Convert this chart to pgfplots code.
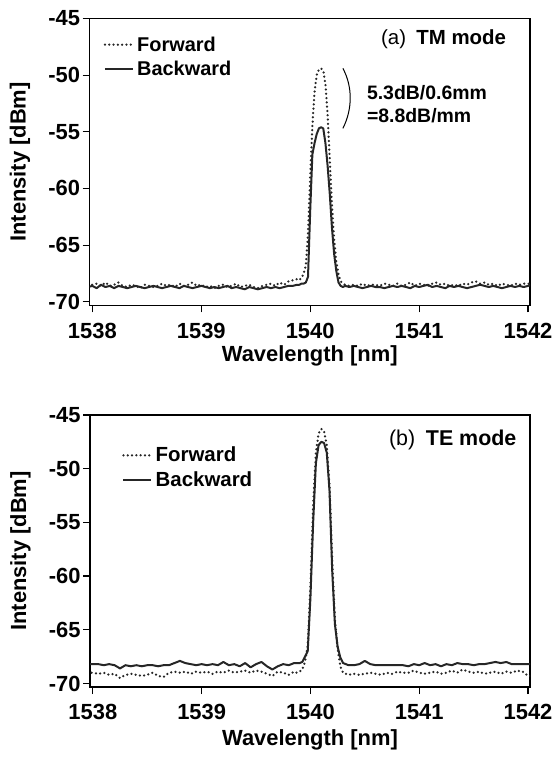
\documentclass[border=0pt]{standalone}
\usepackage{fontspec}
\setmainfont{Liberation Sans}
\usepackage{pgfplots}
\usepackage{pgfplotstable}
\pgfplotsset{compat=1.18}

% (a) TM mode
\pgfplotstableread{
x fwd bwd
1537.96 -68.6 -68.7
1538.00 -68.5 -68.6
1538.04 -68.4 -68.8
1538.08 -68.6 -68.5
1538.12 -68.3 -68.7
1538.16 -68.6 -68.6
1538.20 -68.5 -68.8
1538.24 -68.3 -68.6
1538.28 -68.6 -68.7
1538.32 -68.7 -68.8
1538.36 -68.5 -68.7
1538.40 -68.6 -68.6
1538.44 -68.8 -68.7
1538.48 -68.5 -68.8
1538.52 -68.6 -68.7
1538.56 -68.7 -68.6
1538.60 -68.6 -68.7
1538.64 -68.4 -68.8
1538.68 -68.6 -68.7
1538.72 -68.5 -68.6
1538.76 -68.7 -68.7
1538.80 -68.4 -68.8
1538.84 -68.6 -68.6
1538.88 -68.5 -68.7
1538.92 -68.3 -68.8
1538.96 -68.6 -68.7
1539.00 -68.5 -68.6
1539.04 -68.7 -68.7
1539.08 -68.6 -68.8
1539.12 -68.8 -68.7
1539.16 -68.6 -68.8
1539.20 -68.5 -68.7
1539.24 -68.7 -68.6
1539.28 -68.6 -68.8
1539.32 -68.4 -68.7
1539.36 -68.7 -68.8
1539.40 -68.6 -68.9
1539.44 -68.5 -68.7
1539.48 -68.7 -68.8
1539.52 -68.8 -68.9
1539.56 -68.6 -68.8
1539.60 -68.5 -68.7
1539.64 -68.4 -68.8
1539.68 -68.6 -68.7
1539.72 -68.3 -68.8
1539.76 -68.5 -68.7
1539.80 -68.2 -68.6
1539.84 -68.1 -68.6
1539.88 -68.0 -68.5
1539.90 -68.1 -68.5
1539.92 -67.9 -68.4
1539.94 -67.5 -68.4
1539.96 -66.8 -68.3
1539.98 -64.0 -67.8
1540.00 -59.0 -62.0
1540.02 -54.5 -57.0
1540.04 -51.5 -56.0
1540.06 -50.0 -55.2
1540.08 -49.5 -54.7
1540.10 -49.4 -54.6
1540.12 -49.6 -54.7
1540.14 -50.8 -56.0
1540.16 -53.5 -58.0
1540.18 -57.5 -60.5
1540.20 -61.5 -63.5
1540.22 -64.5 -65.8
1540.24 -66.5 -67.3
1540.26 -67.6 -68.3
1540.28 -68.2 -68.6
1540.30 -68.4 -68.7
1540.32 -68.5 -68.6
1540.36 -68.6 -68.7
1540.40 -68.5 -68.6
1540.44 -68.6 -68.7
1540.48 -68.4 -68.8
1540.52 -68.6 -68.7
1540.56 -68.5 -68.6
1540.60 -68.5 -68.7
1540.64 -68.6 -68.7
1540.68 -68.4 -68.8
1540.72 -68.5 -68.7
1540.76 -68.6 -68.6
1540.80 -68.4 -68.7
1540.84 -68.6 -68.6
1540.88 -68.5 -68.7
1540.92 -68.3 -68.8
1540.96 -68.6 -68.6
1541.00 -68.4 -68.7
1541.04 -68.5 -68.6
1541.08 -68.6 -68.5
1541.12 -68.4 -68.7
1541.16 -68.3 -68.6
1541.20 -68.5 -68.7
1541.24 -68.4 -68.8
1541.28 -68.6 -68.6
1541.32 -68.5 -68.7
1541.36 -68.6 -68.6
1541.40 -68.4 -68.7
1541.44 -68.5 -68.8
1541.48 -68.3 -68.7
1541.52 -68.2 -68.6
1541.56 -68.4 -68.5
1541.60 -68.3 -68.6
1541.64 -68.5 -68.7
1541.68 -68.4 -68.6
1541.72 -68.6 -68.7
1541.76 -68.4 -68.8
1541.80 -68.5 -68.7
1541.84 -68.6 -68.6
1541.88 -68.4 -68.7
1541.92 -68.5 -68.6
1541.96 -68.4 -68.7
1542.00 -68.4 -68.6
1542.04 -68.5 -68.5
}\tmtable

% (b) TE mode
\pgfplotstableread{
x fwd bwd
1537.950 -69.0 -68.2
1538.000 -69.0 -68.2
1538.050 -69.1 -68.2
1538.100 -69.0 -68.3
1538.150 -69.2 -68.2
1538.200 -69.1 -68.3
1538.250 -69.5 -68.6
1538.300 -69.2 -68.3
1538.350 -69.1 -68.4
1538.400 -69.2 -68.3
1538.450 -69.3 -68.4
1538.500 -69.2 -68.3
1538.550 -69.0 -68.3
1538.600 -69.3 -68.4
1538.650 -69.4 -68.3
1538.700 -69.0 -68.3
1538.750 -68.9 -68.1
1538.800 -69.0 -67.9
1538.850 -68.9 -68.1
1538.900 -69.1 -68.2
1538.950 -68.9 -68.3
1539.000 -69.0 -68.2
1539.050 -68.9 -68.3
1539.100 -69.1 -68.2
1539.150 -68.9 -68.3
1539.200 -69.0 -68.0
1539.250 -68.8 -68.3
1539.300 -69.0 -68.2
1539.350 -68.9 -68.4
1539.400 -68.8 -68.1
1539.450 -69.0 -68.5
1539.500 -68.8 -68.2
1539.550 -68.9 -68.0
1539.600 -69.1 -68.4
1539.650 -69.3 -68.7
1539.700 -68.9 -68.4
1539.750 -69.0 -68.2
1539.800 -69.2 -68.3
1539.850 -68.9 -68.1
1539.875 -69.0 -68.1
1539.900 -68.9 -68.1
1539.925 -68.7 -68.0
1539.950 -68.0 -67.5
1539.975 -66.5 -67.0
1540.000 -61.0 -62.0
1540.025 -53.5 -55.0
1540.050 -48.5 -49.5
1540.075 -46.7 -47.8
1540.100 -46.3 -47.5
1540.125 -46.5 -47.6
1540.150 -47.8 -48.5
1540.175 -51.5 -52.0
1540.200 -58.5 -59.5
1540.225 -64.0 -64.5
1540.250 -66.8 -66.6
1540.275 -68.4 -67.6
1540.300 -69.0 -68.1
1540.350 -69.2 -68.3
1540.400 -69.1 -68.3
1540.450 -69.2 -68.2
1540.500 -69.1 -67.9
1540.550 -69.0 -68.2
1540.600 -69.1 -68.3
1540.650 -69.2 -68.3
1540.700 -69.0 -68.3
1540.750 -69.1 -68.3
1540.800 -68.9 -68.3
1540.850 -69.0 -68.3
1540.900 -69.0 -68.4
1540.950 -68.8 -68.2
1541.000 -69.0 -68.3
1541.050 -69.1 -68.1
1541.100 -69.0 -68.3
1541.150 -68.9 -68.2
1541.200 -69.1 -68.4
1541.250 -69.0 -68.2
1541.300 -68.8 -68.3
1541.350 -69.0 -68.1
1541.400 -68.7 -68.2
1541.450 -68.9 -68.2
1541.500 -69.0 -68.3
1541.550 -68.9 -68.2
1541.600 -69.1 -68.2
1541.650 -69.0 -68.1
1541.700 -68.9 -68.0
1541.750 -69.1 -68.1
1541.800 -68.9 -68.0
1541.850 -69.0 -68.2
1541.900 -68.8 -68.2
1541.950 -68.9 -68.2
1542.000 -69.3 -68.2
1542.050 -69.3 -68.2
}\tetable

\pgfplotsset{
  spectrum/.style={
    scale only axis,
    xmin=1537.974, xmax=1542.018,
    ymin=-70.33, ymax=-45,
    xtick={1538,1539,1540,1541,1542},
    ytick={-70,-65,-60,-55,-50,-45},
    tick align=outside,
    xtick pos=bottom, ytick pos=left,
    major tick length=7bp,
    axis line style={line width=1.2bp},
    tick style={line width=1.2bp, black},
    /pgf/number format/assume math mode=true,
    /pgf/number format/1000 sep={},
    ticklabel style={font=\fontsize{22}{22}\selectfont\bfseries},
    xticklabel style={yshift=-7bp},
    yticklabel style={xshift=1bp},
    xlabel={Wavelength [nm]},
    ylabel={Intensity [dBm]},
    every axis y label/.style={at={(rel axis cs:-0.158,0.5)}, rotate=90, anchor=center,
      font=\fontsize{22}{22}\selectfont\bfseries},
    every axis x label/.style={at={(rel axis cs:0.5,0)}, anchor=center, yshift=-50bp,
      font=\fontsize{22}{22}\selectfont\bfseries},
    legend cell align=left,
    legend image code/.code={\draw[##1] (0bp,0bp) -- (28bp,0bp);},
    legend style={draw=none, fill=none, at={(0,1)}, anchor=north west,
      xshift=14bp, yshift=-15bp, inner sep=0pt, row sep=2bp,
      nodes={inner sep=3bp},
      font=\fontsize{20}{20}\selectfont\bfseries},
  },
  fwd/.style={line width=2.5bp, dash pattern=on 0bp off 4.3bp, line cap=round, black!85},
  bwd/.style={line width=2bp, line join=round, black!85},
}

\begin{document}
\begin{tikzpicture}
\useasboundingbox (0,0) rectangle (558bp,758bp);

\begin{axis}[spectrum, at={(89.5bp,452.5bp)}, anchor=south west,
  width=440.5bp, height=287bp]
\addplot[fwd] table[x=x, y=fwd] {\tmtable};
\addplot[bwd] table[x=x, y=bwd] {\tmtable};
\legend{Forward, Backward}
\node[anchor=east, font=\fontsize{20.5}{21}\selectfont] at (rel axis cs:0.9535,0.928) {(a)\hspace{0.5em}\textbf{TM mode}};
\node[anchor=west, align=left, font=\fontsize{19.5}{23}\selectfont\bfseries] at (rel axis cs:0.622,0.703) {5.3dB/0.6mm\\=8.8dB/mm};
\draw[line width=1bp] (axis cs:1540.30,-49.4) .. controls (axis cs:1540.39,-51) and (axis cs:1540.39,-53) .. (axis cs:1540.30,-54.7);
\end{axis}

\begin{axis}[spectrum, at={(90bp,71bp)}, anchor=south west,
  width=440bp, height=272bp,
  every axis x label/.append style={yshift=-3bp},
  legend style={xshift=18bp, yshift=-14bp, font=\fontsize{20.5}{21}\selectfont\bfseries}]
\addplot[fwd] table[x=x, y=fwd] {\tetable};
\addplot[bwd] table[x=x, y=bwd] {\tetable};
\legend{Forward, Backward}
\node[anchor=east, font=\fontsize{21.5}{22}\selectfont] at (rel axis cs:0.977,0.908) {(b)\hspace{0.5em}\textbf{TE mode}};
\end{axis}
\end{tikzpicture}
\end{document}
